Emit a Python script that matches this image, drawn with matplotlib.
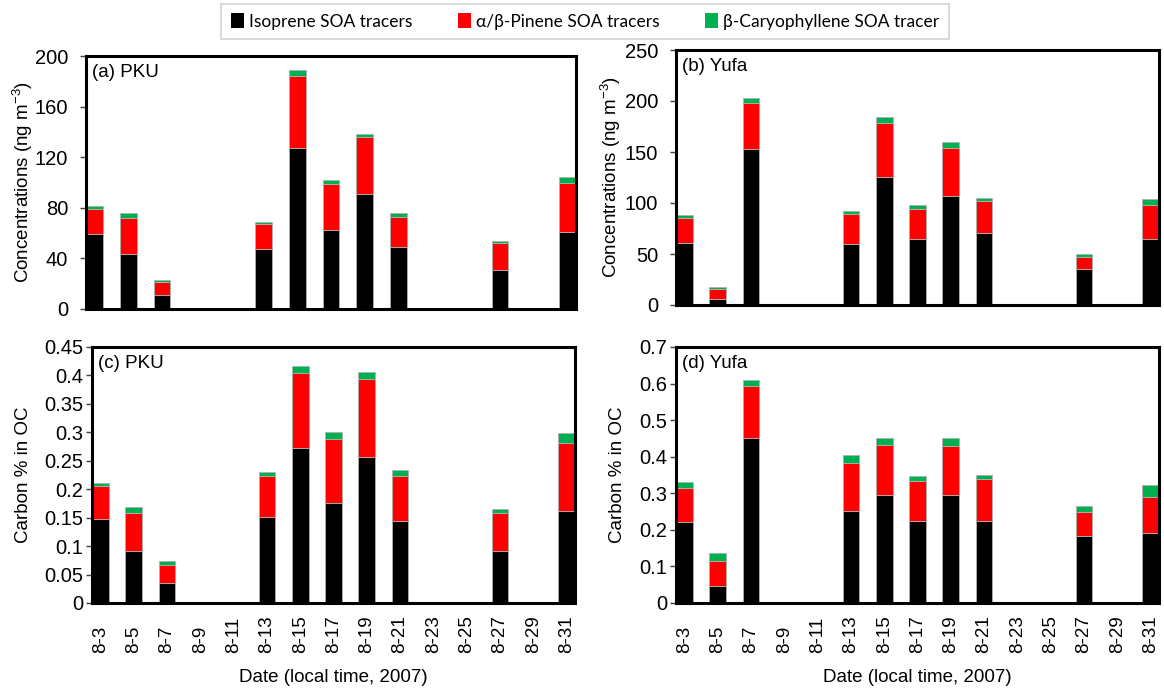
import numpy as np
import matplotlib
matplotlib.use('Agg')
from matplotlib import pyplot as plt
from matplotlib.patches import Patch

plt.rcParams['font.family'] = ['Liberation Sans', 'DejaVu Sans']
plt.rcParams['mathtext.fontset'] = 'custom'
plt.rcParams['mathtext.rm'] = 'Liberation Sans'
plt.rcParams['mathtext.default'] = 'regular'

# sampling dates (day of August) and axis days
sample_days = [3, 5, 7, 13, 15, 17, 19, 21, 27, 31]
all_days = list(range(3, 32))
tick_days = list(range(3, 32, 2))

# (a) PKU, ng m-3
pku_conc_iso = [58.9, 43.6, 10.8, 47.3, 127.0, 62.6, 91.0, 48.9, 31.0, 60.7]
pku_conc_pin = [20.2, 28.4, 10.2, 19.7, 57.3, 36.5, 44.6, 24.2, 20.8, 38.9]
pku_conc_car = [2.1, 3.7, 1.6, 1.6, 4.4, 2.9, 2.9, 2.6, 1.6, 4.8]

# (b) Yufa, ng m-3
yufa_conc_iso = [60.8, 6.2, 152.9, 60.1, 125.2, 65.0, 106.9, 70.6, 35.3, 64.4]
yufa_conc_pin = [24.2, 9.2, 45.1, 29.1, 52.9, 29.1, 47.3, 31.4, 12.1, 34.0]
yufa_conc_car = [3.2, 2.2, 4.6, 3.0, 5.9, 3.6, 5.6, 2.9, 2.6, 5.8]

# (c) PKU, carbon % in OC
pku_oc_iso = [0.147, 0.091, 0.035, 0.151, 0.273, 0.176, 0.257, 0.144, 0.091, 0.162]
pku_oc_pin = [0.058, 0.068, 0.032, 0.072, 0.132, 0.112, 0.137, 0.079, 0.068, 0.119]
pku_oc_car = [0.006, 0.010, 0.007, 0.007, 0.012, 0.012, 0.012, 0.011, 0.007, 0.017]

# (d) Yufa, carbon % in OC
yufa_oc_iso = [0.221, 0.047, 0.450, 0.251, 0.295, 0.223, 0.295, 0.225, 0.182, 0.191]
yufa_oc_pin = [0.093, 0.067, 0.143, 0.133, 0.136, 0.110, 0.133, 0.113, 0.066, 0.100]
yufa_oc_car = [0.018, 0.023, 0.018, 0.021, 0.021, 0.014, 0.022, 0.013, 0.018, 0.031]

series_names = ['Isoprene SOA tracers', 'α/β-Pinene SOA tracers', 'β-Caryophyllene SOA tracer']
colors = ['#000000', '#ff0000', '#00b050']

W, H = 1164, 689


def px_axes(fig, left, top, right, bottom):
    return fig.add_axes([left / W, (H - bottom) / H, (right - left) / W, (bottom - top) / H])


def draw_panel(ax, iso, pin, car, ymax, ystep, title, ylabel, ylabel_x, show_x, ypad):
    x = np.array([all_days.index(d) for d in sample_days])
    iso, pin, car = np.array(iso), np.array(pin), np.array(car)
    kw = dict(width=1.0, edgecolor='#b0b0b0', linewidth=0.6)
    ax.bar(x, iso, color=colors[0], **kw)
    ax.bar(x, pin, bottom=iso, color=colors[1], **kw)
    ax.bar(x, car, bottom=iso + pin, color=colors[2], **kw)
    ax.set_xlim(-0.5, len(all_days) - 0.5)
    ax.set_ylim(0, ymax)
    yt = np.round(np.arange(0, ymax + ystep / 2, ystep), 3)
    ax.set_yticks(yt)
    ax.set_yticklabels([f'{v:g}' for v in yt])
    ax.tick_params(axis='y', labelsize=14.5, length=4.3, width=1, color='#404040',
                   direction='out', pad=ypad)
    for s in ax.spines.values():
        s.set_linewidth(2.2)
    if show_x:
        ax.set_xticks([all_days.index(d) for d in tick_days])
        ax.set_xticklabels([f'8-{d}' for d in tick_days], rotation=90, va='bottom')
        ax.tick_params(axis='x', labelsize=13.5, length=0, pad=36)
        ax.set_xlabel('Date (local time, 2007)', fontsize=13.5)
    else:
        ax.set_xticks([])
    ax.set_ylabel(ylabel, fontsize=13.5, va='center')
    ax.yaxis.set_label_coords(ylabel_x, 0.5)
    ax.text(0.013, 0.97, title, transform=ax.transAxes, fontsize=13.5, va='top', ha='left')


fig = plt.figure(figsize=(W / 100, H / 100), dpi=100)

ax_a = px_axes(fig, 86, 56, 576, 309)
draw_panel(ax_a, pku_conc_iso, pku_conc_pin, pku_conc_car, 200, 40, '(a) PKU',
           'Concentrations (ng m$^{-3}$)', -0.1286, False, 8.5)
ax_b = px_axes(fig, 676, 50, 1159, 305)
draw_panel(ax_b, yufa_conc_iso, yufa_conc_pin, yufa_conc_car, 250, 50, '(b) Yufa',
           'Concentrations (ng m$^{-3}$)', -0.1346, False, 8.5)
ax_c = px_axes(fig, 92, 347, 575, 603)
draw_panel(ax_c, pku_oc_iso, pku_oc_pin, pku_oc_car, 0.45, 0.05, '(c) PKU',
           'Carbon % in OC', -0.1408, True, 2.2)
ax_d = px_axes(fig, 676, 347, 1159, 603)
draw_panel(ax_d, yufa_oc_iso, yufa_oc_pin, yufa_oc_car, 0.7, 0.1, '(d) Yufa',
           'Carbon % in OC', -0.122, True, 2.2)

# x label sits a fixed distance under the axes, not under the tick labels
for ax in (ax_c, ax_d):
    ax.xaxis.set_label_coords(0.5, -(677 - 603) / 256)
    ax.xaxis.label.set_va('center')

handles = [Patch(facecolor=c, edgecolor='none') for c in colors]
leg = fig.legend(handles, series_names, loc='center', bbox_to_anchor=(585 / W, 1 - 21.5 / H),
                 ncol=3, frameon=True, fancybox=False, handlelength=0.75,
                 handleheight=0.95, handletextpad=0.3, columnspacing=2.6, borderpad=0.55,
                 prop={'family': ['Lato', 'DejaVu Sans'], 'size': 12.5})
leg.get_frame().set_edgecolor('#c8c8c8')
leg.get_frame().set_linewidth(1.2)

fig.savefig('out.png', dpi=100)
